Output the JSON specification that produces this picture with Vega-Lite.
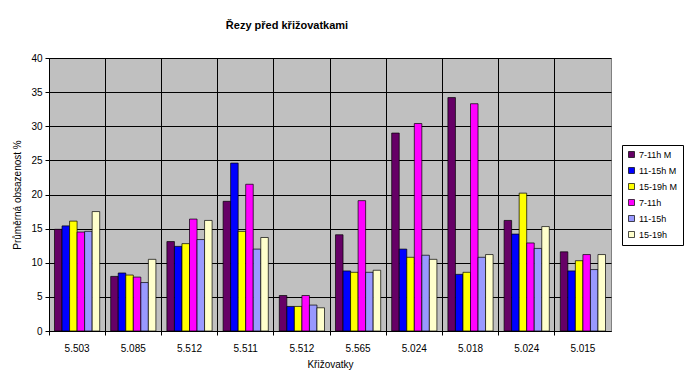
{
  "$schema": "https://vega.github.io/schema/vega-lite/v6.json",
  "width": 562,
  "height": 273,
  "autosize": {"type": "none"},
  "padding": {"left": 49, "top": 58, "right": 81, "bottom": 54},
  "background": "white",
  "title": {
    "text": "Řezy před křižovatkami",
    "font": "Liberation Sans",
    "fontSize": 11,
    "fontWeight": "bold",
    "color": "black",
    "anchor": "middle",
    "dx": -43,
    "offset": 22
  },
  "config": {
    "view": {"fill": "#C0C0C0", "stroke": "#808080", "strokeWidth": 1},
    "axis": {
      "labelFont": "Liberation Sans",
      "labelFontSize": 10,
      "labelColor": "black",
      "titleFont": "Liberation Sans",
      "titleFontSize": 10,
      "titleFontWeight": "normal",
      "titleColor": "black",
      "domainColor": "black",
      "tickColor": "black",
      "gridColor": "black",
      "gridOpacity": 1,
      "gridWidth": 1
    },
    "legend": {
      "labelFont": "Liberation Sans",
      "labelFontSize": 9,
      "labelColor": "black"
    }
  },
  "data": {
    "values": [
      {"pos": 1, "series": "7-11h M", "value": 14.9},
      {"pos": 1, "series": "11-15h M", "value": 15.4},
      {"pos": 1, "series": "15-19h M", "value": 16.1},
      {"pos": 1, "series": "7-11h", "value": 14.5},
      {"pos": 1, "series": "11-15h", "value": 14.6},
      {"pos": 1, "series": "15-19h", "value": 17.5},
      {"pos": 2, "series": "7-11h M", "value": 8.0},
      {"pos": 2, "series": "11-15h M", "value": 8.5},
      {"pos": 2, "series": "15-19h M", "value": 8.2},
      {"pos": 2, "series": "7-11h", "value": 7.9},
      {"pos": 2, "series": "11-15h", "value": 7.1},
      {"pos": 2, "series": "15-19h", "value": 10.5},
      {"pos": 3, "series": "7-11h M", "value": 13.1},
      {"pos": 3, "series": "11-15h M", "value": 12.4},
      {"pos": 3, "series": "15-19h M", "value": 12.8},
      {"pos": 3, "series": "7-11h", "value": 16.4},
      {"pos": 3, "series": "11-15h", "value": 13.4},
      {"pos": 3, "series": "15-19h", "value": 16.2},
      {"pos": 4, "series": "7-11h M", "value": 19.0},
      {"pos": 4, "series": "11-15h M", "value": 24.6},
      {"pos": 4, "series": "15-19h M", "value": 14.6},
      {"pos": 4, "series": "7-11h", "value": 21.5},
      {"pos": 4, "series": "11-15h", "value": 12.0},
      {"pos": 4, "series": "15-19h", "value": 13.7},
      {"pos": 5, "series": "7-11h M", "value": 5.2},
      {"pos": 5, "series": "11-15h M", "value": 3.6},
      {"pos": 5, "series": "15-19h M", "value": 3.6},
      {"pos": 5, "series": "7-11h", "value": 5.2},
      {"pos": 5, "series": "11-15h", "value": 3.8},
      {"pos": 5, "series": "15-19h", "value": 3.4},
      {"pos": 6, "series": "7-11h M", "value": 14.1},
      {"pos": 6, "series": "11-15h M", "value": 8.8},
      {"pos": 6, "series": "15-19h M", "value": 8.6},
      {"pos": 6, "series": "7-11h", "value": 19.1},
      {"pos": 6, "series": "11-15h", "value": 8.6},
      {"pos": 6, "series": "15-19h", "value": 8.9},
      {"pos": 7, "series": "7-11h M", "value": 29.0},
      {"pos": 7, "series": "11-15h M", "value": 12.0},
      {"pos": 7, "series": "15-19h M", "value": 10.8},
      {"pos": 7, "series": "7-11h", "value": 30.4},
      {"pos": 7, "series": "11-15h", "value": 11.1},
      {"pos": 7, "series": "15-19h", "value": 10.5},
      {"pos": 8, "series": "7-11h M", "value": 34.2},
      {"pos": 8, "series": "11-15h M", "value": 8.3},
      {"pos": 8, "series": "15-19h M", "value": 8.6},
      {"pos": 8, "series": "7-11h", "value": 33.3},
      {"pos": 8, "series": "11-15h", "value": 10.8},
      {"pos": 8, "series": "15-19h", "value": 11.2},
      {"pos": 9, "series": "7-11h M", "value": 16.2},
      {"pos": 9, "series": "11-15h M", "value": 14.2},
      {"pos": 9, "series": "15-19h M", "value": 20.2},
      {"pos": 9, "series": "7-11h", "value": 12.9},
      {"pos": 9, "series": "11-15h", "value": 12.1},
      {"pos": 9, "series": "15-19h", "value": 15.3},
      {"pos": 10, "series": "7-11h M", "value": 11.6},
      {"pos": 10, "series": "11-15h M", "value": 8.8},
      {"pos": 10, "series": "15-19h M", "value": 10.3},
      {"pos": 10, "series": "7-11h", "value": 11.2},
      {"pos": 10, "series": "11-15h", "value": 9.0},
      {"pos": 10, "series": "15-19h", "value": 11.2}
    ]
  },
  "mark": {"type": "bar", "stroke": "black", "strokeWidth": 0.7},
  "encoding": {
    "x": {
      "field": "pos",
      "type": "ordinal",
      "scale": {"paddingInner": 0, "paddingOuter": 0},
      "axis": {
        "title": "Křižovatky",
        "labelAngle": 0,
        "labelExpr": "['5.503','5.085','5.512','5.511','5.512','5.565','5.024','5.018','5.024','5.015'][datum.value-1]",
        "grid": true,
        "bandPosition": 0,
        "tickSize": 4,
        "labelPadding": 8,
        "titlePadding": 6
      }
    },
    "xOffset": {
      "field": "series",
      "type": "nominal",
      "sort": ["7-11h M", "11-15h M", "15-19h M", "7-11h", "11-15h", "15-19h"],
      "scale": {"paddingInner": 0, "paddingOuter": 0.73}
    },
    "y": {
      "field": "value",
      "type": "quantitative",
      "scale": {"domain": [0, 40]},
      "axis": {
        "title": "Průměrná obsazenost %",
        "values": [0, 5, 10, 15, 20, 25, 30, 35, 40],
        "tickSize": 4,
        "labelPadding": 3,
        "titlePadding": 8
      }
    },
    "color": {
      "field": "series",
      "type": "nominal",
      "sort": ["7-11h M", "11-15h M", "15-19h M", "7-11h", "11-15h", "15-19h"],
      "scale": {
        "domain": ["7-11h M", "11-15h M", "15-19h M", "7-11h", "11-15h", "15-19h"],
        "range": ["#660066", "#0000FF", "#FFFF00", "#FF00FF", "#9999FF", "#FFFFCC"]
      },
      "legend": {
        "title": null,
        "orient": "none",
        "legendX": 573,
        "legendY": 87,
        "symbolType": "square",
        "symbolSize": 36,
        "symbolStrokeColor": "black",
        "symbolStrokeWidth": 0.7,
        "labelOffset": 3,
        "rowPadding": 6,
        "strokeColor": "black",
        "fillColor": "white",
        "padding": 5
      }
    }
  }
}
